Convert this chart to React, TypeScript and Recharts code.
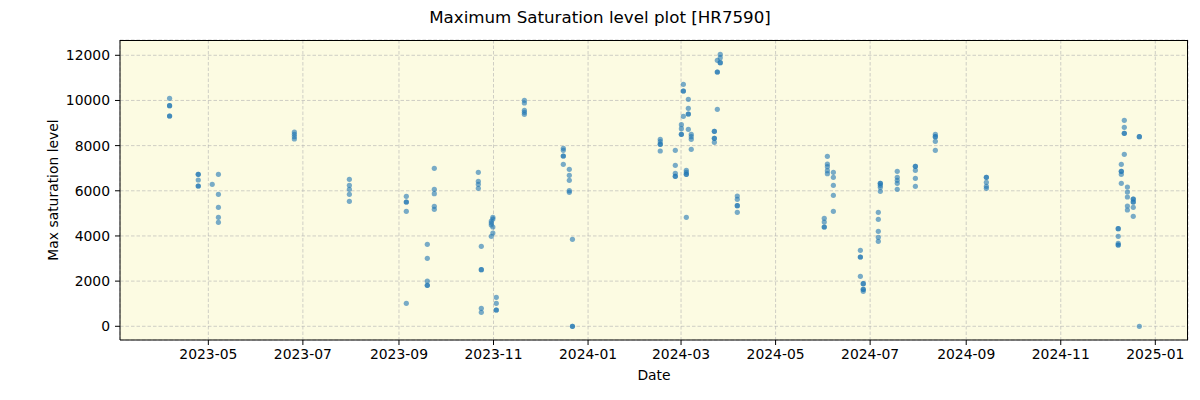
import React from "react";
import {
  ScatterChart, Scatter, XAxis, YAxis, CartesianGrid,
} from "recharts";

// observation epochs (UTC) and the max saturation levels measured at each
const obsDates = [
  "2023-04-06", "2023-04-24T12:00Z", "2023-05-03T12:00Z", "2023-05-07T12:00Z",
  "2023-06-25T12:00Z", "2023-07-31", "2023-09-05T18:00Z", "2023-09-19T07:00Z",
  "2023-09-23T19:00Z", "2023-10-22T05:00Z", "2023-10-24T03:00Z", "2023-10-30T14:00Z",
  "2023-10-31T14:00Z", "2023-11-02T19:00Z", "2023-11-20T22:00Z", "2023-12-16T01:00Z",
  "2023-12-19T22:00Z", "2023-12-21T22:00Z", "2024-02-16T14:00Z", "2024-02-26T07:00Z",
  "2024-03-01T05:00Z", "2024-03-02T12:00Z", "2024-03-04T10:00Z", "2024-03-05T17:00Z",
  "2024-03-07T14:00Z", "2024-03-22T12:00Z", "2024-03-24T10:00Z", "2024-03-26T07:00Z",
  "2024-04-06T07:00Z", "2024-06-01T10:00Z", "2024-06-03T10:00Z", "2024-06-07T07:00Z",
  "2024-06-24T17:00Z", "2024-06-26T14:00Z", "2024-07-06T07:00Z", "2024-07-07T14:00Z",
  "2024-07-18T12:00Z", "2024-07-30T05:00Z", "2024-08-12T02:00Z", "2024-09-14",
  "2024-12-08T02:00Z", "2024-12-10T02:00Z", "2024-12-12", "2024-12-14",
  "2024-12-17T19:00Z", "2024-12-21T17:00Z",
];

const satLevels = [
  [10096, 9768, 9768, 9312, 9312],
  [6731, 6731, 6478, 6212, 6212],
  [6288],
  [6731, 5845, 5269, 4827, 4605],
  [8604, 8502, 8396, 8294],
  [6509, 6243, 6066, 5845, 5535],
  [5756, 5504, 5504, 5092, 1018],
  [3631, 3011, 2006, 1815, 1815],
  [6996, 6066, 5873, 5314, 5181],
  [6819, 6421, 6288, 6111],
  [3542, 2506, 2506, 797, 620],
  [4663, 4574, 4486, 3985],
  [4827, 4751, 4397, 4131],
  [1284, 1018, 722, 722],
  [10007, 9888, 9565, 9476, 9387],
  [7882, 7793, 7541, 7541, 7173],
  [6952, 6686, 6465, 6006, 5934],
  [3852, 0, 0],
  [8280, 8176, 8059, 8059, 7763],
  [7793, 7129, 6775, 6642, 6642],
  [8927, 8750, 8502, 8502],
  [10716, 10419, 10419, 9298],
  [6908, 6819, 6731, 6731, 4827],
  [10052, 9653, 9401, 9401, 8723],
  [8502, 8396, 8280, 7838],
  [8635, 8635, 8325, 8325, 8148],
  [11779, 11261, 11261, 9609],
  [12044, 11894, 11673, 11673],
  [5770, 5624, 5340, 5340, 5048],
  [4782, 4618, 4397, 4397],
  [7528, 7187, 7069, 6890, 6757],
  [6819, 6598, 6243, 5801, 5092],
  [3365, 3069, 3069, 2214],
  [1886, 1886, 1638, 1638, 1550],
  [5048, 4738, 4207, 3941, 3764],
  [6332, 6332, 6243, 6155, 5978],
  [6864, 6598, 6465, 6332, 6066],
  [7085, 7085, 6908, 6554, 6199],
  [8502, 8396, 8396, 8192, 7793],
  [6598, 6598, 6376, 6199, 6111],
  [4324, 4324, 3985, 3675, 3600, 3600],
  [7173, 6864, 6864, 6731, 6332],
  [9122, 8812, 8546, 8546, 7616],
  [6168, 5947, 5725, 5327, 5150],
  [5637, 5637, 5504, 5504, 5269, 4871],
  [8396, 8396, 0],
];

const monthTicks = [
  "2023-05", "2023-07", "2023-09", "2023-11", "2024-01", "2024-03",
  "2024-05", "2024-07", "2024-09", "2024-11", "2025-01",
];
const yTicks = [0, 2000, 4000, 6000, 8000, 10000, 12000];

const DAY = 86400000;
const xDomain = [Date.parse("2023-03-05"), Date.parse("2025-01-22") + 0.1 * DAY];
const yDomain = [-607, 12677];

const points = obsDates.flatMap((d, i) =>
  satLevels[i].map((v) => ({ t: Date.parse(d), v }))
);
const xTicks = monthTicks.map((m) => Date.parse(m + "-01"));

const fmtMonth = (t: number) => {
  const d = new Date(t);
  return `${d.getUTCFullYear()}-${String(d.getUTCMonth() + 1).padStart(2, "0")}`;
};

const font = "'DejaVu Sans', sans-serif";
const tickStyle = { fill: "#000", fontSize: 13.9, fontFamily: font };

const Dot = (p: any) => (
  <circle cx={p.cx} cy={p.cy} r={2.6} fill="#1f77b4" fillOpacity={0.6} />
);

export default function App() {
  return (
    <div style={{ position: "absolute", left: 0, top: 0, width: 1200, height: 400, background: "#fff", fontFamily: font }}>
      <ScatterChart width={1200} height={400} margin={{ top: 40, right: 12, bottom: 30, left: 60 }}>
        <CartesianGrid
          fill="#fcfbe2"
          stroke="#b0b0b0"
          strokeOpacity={0.6}
          strokeDasharray="3.5 2"
        />
        <XAxis
          dataKey="t"
          type="number"
          domain={xDomain}
          allowDataOverflow
          ticks={xTicks}
          tickFormatter={fmtMonth}
          height={30}
          tickSize={5}
          tickMargin={4}
          tick={tickStyle}
          stroke="#000"
          interval={0}
        />
        <YAxis
          dataKey="v"
          type="number"
          domain={yDomain}
          allowDataOverflow
          ticks={yTicks}
          width={60}
          tickSize={5}
          tickMargin={5}
          tick={tickStyle}
          stroke="#000"
          interval={0}
        />
        <Scatter data={points} shape={Dot} isAnimationActive={false} />
      </ScatterChart>
      {/* top and right spines of the axes box */}
      <div style={{ position: "absolute", left: 120, top: 40, width: 1068, height: 300, borderTop: "1px solid #000", borderRight: "1px solid #000", boxSizing: "border-box", pointerEvents: "none" }} />
      <div style={{ position: "absolute", left: 600, top: 17, transform: "translate(-50%, -50%)", fontSize: 16.7, whiteSpace: "nowrap" }}>
        Maximum Saturation level plot [HR7590]
      </div>
      <div style={{ position: "absolute", left: 654, top: 375, transform: "translate(-50%, -50%)", fontSize: 13.9, whiteSpace: "nowrap" }}>
        Date
      </div>
      <div style={{ position: "absolute", left: 53, top: 190, transform: "translate(-50%, -50%) rotate(-90deg)", fontSize: 13.9, whiteSpace: "nowrap" }}>
        Max saturation level
      </div>
    </div>
  );
}
